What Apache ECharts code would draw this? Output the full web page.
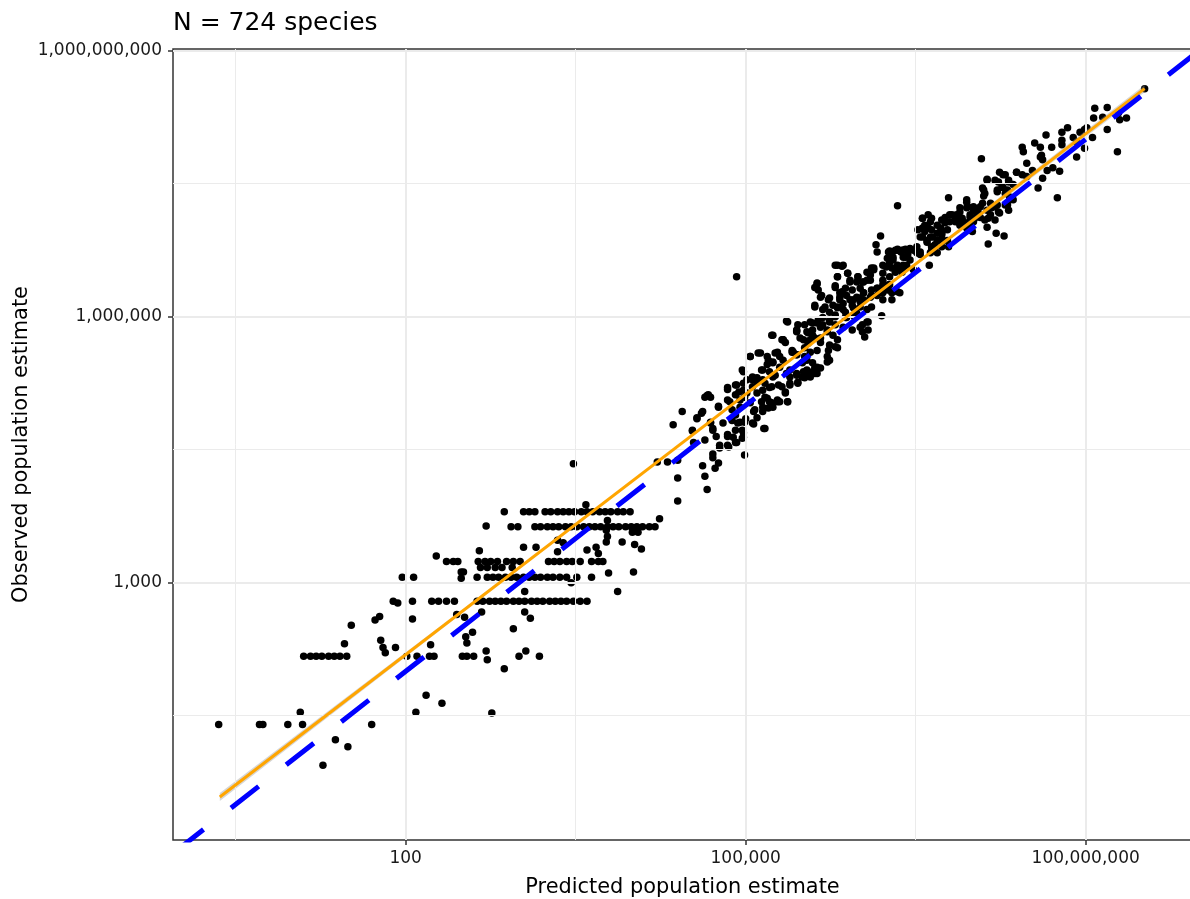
<!DOCTYPE html>
<html>
<head>
<meta charset="utf-8">
<script src="https://cdn.jsdelivr.net/npm/echarts@6/dist/echarts.min.js"></script>
<style>
html,body{margin:0;padding:0;background:#ffffff;}
#chart{width:1190px;height:899px;}
</style>
</head>
<body>
<div id="chart"></div>
<script>
// Each point: [log10(predicted population), log10(observed population)]
const pointsLowRange = [
[0.35,1.40],[0.71,1.40],[0.74,1.40],[0.96,1.40],[1.07,1.54],[1.09,1.40],[1.38,1.23],[1.49,1.15],[1.27,0.94],[1.70,1.40],
[2.09,1.54],[2.18,1.73],[2.32,1.64],[1.10,2.17],[1.16,2.17],[1.21,2.17],[1.26,2.17],[1.32,2.17],[1.37,2.17],[1.42,2.17],
[1.48,2.17],[1.46,2.31],[1.52,2.52],[1.73,2.58],[1.77,2.62],[1.78,2.35],[1.80,2.27],[1.82,2.21],[1.91,2.27],[1.97,3.06],
[2.07,3.06],[1.89,2.79],[1.93,2.77],[2.06,2.79],[2.06,2.59],[2.01,2.17],[2.10,2.17],[2.22,2.30],[2.21,2.17],[2.27,3.30],
[2.36,3.24],[2.42,3.24],[2.46,3.24],[2.49,3.12],[2.51,3.12],[2.49,3.05],[2.23,2.79],[2.29,2.79],[2.36,2.79],[2.43,2.79],
[2.45,2.64],[2.52,2.61],[2.53,2.39],[2.54,2.32],[2.50,2.17],[2.54,2.17]
];
const pointsMidLowRange = [
[3.48,4.34],[4.22,4.36],[4.31,4.36],[4.40,4.38],[4.40,4.18],[4.40,3.92],[4.24,3.72],[2.87,3.80],
[3.04,3.80],[3.09,3.80],[3.14,3.80],[3.23,3.80],[3.28,3.80],[3.34,3.80],[3.39,3.80],[3.44,3.80],[3.49,3.80],[3.55,3.80],
[3.60,3.80],[3.65,3.80],[3.71,3.80],[3.76,3.80],[3.81,3.80],[3.87,3.80],[3.92,3.80],[3.98,3.80],
[3.59,3.88],[2.71,3.64],
[2.93,3.63],[2.99,3.63],[3.14,3.63],[3.19,3.63],[3.25,3.63],[3.30,3.63],[3.35,3.63],[3.41,3.63],[3.46,3.63],[3.51,3.63],
[3.57,3.63],[3.62,3.63],[3.67,3.63],[3.72,3.63],[3.78,3.63],[3.83,3.63],[3.88,3.63],[3.94,3.63],[3.99,3.63],[4.04,3.63],
[4.09,3.63],[4.15,3.63],[4.20,3.63],
[4.00,3.57],[4.05,3.57],[3.78,3.70],[3.77,3.59],[3.78,3.52],[3.77,3.46],[3.91,3.46],[4.04,3.59],[4.02,3.43],[4.08,3.38],
[3.68,3.40],[3.60,3.37],[3.70,3.33],[3.34,3.48],[3.39,3.45],[3.34,3.35],[3.04,3.40],[3.15,3.40],[2.65,3.36],
[2.64,3.24],[2.70,3.24],[2.75,3.24],[2.81,3.24],[2.89,3.24],[2.95,3.24],[3.01,3.24],[3.26,3.24],[3.31,3.24],[3.36,3.24],
[3.42,3.24],[3.47,3.24],[3.54,3.24],[3.64,3.24],[3.70,3.24],[3.74,3.24],
[2.66,3.17],[2.72,3.17],[2.79,3.17],[2.85,3.17],[2.94,3.17],[2.63,3.06],
[2.72,3.06],[2.77,3.06],[2.82,3.06],[2.88,3.06],[2.93,3.06],[2.98,3.06],[3.04,3.06],[3.09,3.06],[3.14,3.06],[3.19,3.06],
[3.25,3.06],[3.30,3.06],[3.36,3.06],[3.42,3.06],[3.51,3.06],[3.64,3.06],
[3.79,3.11],[4.01,3.12],[3.46,3.00],[3.05,2.90],[3.87,2.90],
[2.63,2.79],[2.68,2.79],[2.74,2.79],[2.79,2.79],[2.84,2.79],[2.89,2.79],[2.95,2.79],[3.00,2.79],[3.05,2.79],[3.11,2.79],
[3.16,2.79],[3.21,2.79],[3.27,2.79],[3.32,2.79],[3.37,2.79],[3.42,2.79],[3.48,2.79],[3.54,2.79],[3.60,2.79],
[3.05,2.67],[3.10,2.60],[2.67,2.67],[2.59,2.44],[2.95,2.48],[2.25,2.17],[2.60,2.17],[2.71,2.23],[2.72,2.13],[3.00,2.17],
[3.06,2.23],[3.18,2.17],[2.87,2.03],[2.76,1.53]
];
const pointsMidRange = [
[4.36,4.78],[4.44,4.93],[4.53,4.71],[4.57,4.85],[4.61,4.91],[4.66,5.11],[4.69,5.09],[4.76,4.99],[4.69,4.81],[4.71,4.74],
[4.74,4.65],[4.77,4.52],[4.71,4.45],[4.71,4.41],[4.76,4.35],[4.73,4.29],[4.62,4.32],[4.64,4.20],[4.66,4.05],
[4.84,5.18],[4.91,5.23],[4.94,5.15],[4.98,5.38],[4.86,5.04],[4.88,4.95],[4.91,4.89],[4.84,4.65],[4.91,4.72],[4.98,4.69],
[4.85,4.53],[4.92,4.58],[4.97,4.63],[4.99,4.44],[4.95,4.81],[5.00,4.85],
[5.01,5.29],[5.06,5.32],[5.10,5.26],[5.06,5.21],[5.01,5.14],[5.15,5.40],[5.19,5.46],[5.24,5.49],[5.15,5.17],[5.17,5.09],
[5.15,4.98],[5.21,5.04],[5.24,4.98],[5.28,5.04],[5.07,4.93],[5.07,4.79],[5.16,4.74],[5.35,5.15],[5.37,5.04],[5.39,5.23],
[5.46,5.25],[5.45,5.36],[5.51,5.38],[5.54,5.34],[5.59,5.38],[5.66,5.42],[5.72,5.49],[5.36,5.36],[5.39,5.32],
[4.84,5.20],[4.92,5.23],[4.98,5.17],[4.91,5.12],[4.84,5.06],[4.95,5.06],[4.99,5.09],[5.04,5.03],[5.08,4.95],[5.14,5.04],
[5.19,5.08],[5.20,4.97],[5.23,5.03],[5.28,5.06],[5.15,4.93],[4.67,5.12],[4.64,5.09],[4.76,4.98],[4.62,4.93],[4.57,4.86],
[4.69,4.80],[4.71,4.72],[4.80,4.80],[4.88,4.83],[4.93,4.80],[4.97,4.72],[4.98,4.64],[4.89,4.64],[4.84,4.67],[4.77,4.55],
[4.84,4.55],[4.91,4.58],[5.06,4.80],[5.10,4.86],[5.17,4.74],[4.53,4.72],[4.54,4.58],[4.64,4.61],
[4.97,5.40],[5.06,5.29],[5.10,5.31],[5.14,5.40],[5.21,5.38],[5.24,5.48],[5.30,5.43],[5.26,5.34],[5.17,5.25],[5.21,5.20],
[5.29,5.23],[5.35,5.14],[5.37,5.04],[5.39,5.40],[5.45,5.34],[5.50,5.48],[5.54,5.40],[5.57,5.32],[5.61,5.43],[5.63,5.36],
[5.46,5.26],[5.52,5.31],[5.39,5.25],[5.30,5.04]
];
const pointsMidHighRange = [
[4.92,6.45],[6.19,6.91],[6.15,6.81],[6.16,6.73],[6.26,6.73],[6.30,6.67],[6.38,6.75],[6.41,6.67],[6.48,6.75],[6.45,6.64],
[6.54,6.70],[6.21,6.58],[6.27,6.61],[6.34,6.53],[6.39,6.58],[6.48,6.53],[6.62,6.58],
[5.79,6.58],[5.86,6.58],[5.81,6.45],[5.90,6.49],[5.99,6.45],[6.07,6.50],[6.13,6.53],[5.63,6.38],[5.64,6.30],[5.79,6.35],
[5.85,6.28],[5.92,6.39],[6.04,6.39],[6.10,6.41],[6.16,6.32],[6.21,6.41],[6.26,6.36],
[5.66,6.22],[5.73,6.19],[5.83,6.19],[5.89,6.24],[5.95,6.19],[6.04,6.27],[6.11,6.24],[6.21,6.27],[6.29,6.28],[6.36,6.27],
[5.61,6.11],[5.68,6.08],[5.74,6.05],[5.81,6.11],[5.86,6.08],[5.94,6.13],[6.01,6.17],[6.20,6.01],
[5.57,5.94],[5.63,5.93],[5.68,5.99],[5.74,5.96],[5.79,6.02],[5.88,5.99],[5.37,5.94],
[5.59,5.85],[5.66,5.88],[5.72,5.85],[5.79,5.91],[5.86,5.88],[5.94,5.85],[6.01,5.88],[6.05,5.77],[6.08,5.85],
[5.23,5.79],[5.32,5.74],[5.35,5.71],[5.45,5.85],[5.51,5.74],[5.55,5.70],[5.66,5.71],[5.74,5.68],[5.81,5.65],[5.72,5.55],
[5.74,5.51],[5.04,5.55],[5.11,5.59],[5.19,5.55],[5.26,5.59],[5.33,5.51],[5.41,5.62],[5.45,5.57],[5.54,5.51],[5.59,5.48],
[5.63,5.43],[5.54,5.36],[5.61,5.36],[5.50,5.32],[5.15,5.29],[5.24,5.32],[5.23,5.21],[5.32,5.21],[4.98,5.25],[5.10,5.14],
[4.95,4.98],[4.99,4.81]
];
const pointsCoreCluster = [
[6.27,6.74],[6.34,6.76],[6.37,6.73],[6.41,6.76],[6.39,6.67],[6.43,6.70],[6.25,6.66],[6.30,6.64],[6.34,6.58],[6.24,6.56],
[6.29,6.55],[6.32,6.50],[6.39,6.55],[6.42,6.58],[5.81,6.58],[5.85,6.57],[6.13,6.55],[5.90,6.49],[5.92,6.41],[5.99,6.45],
[6.03,6.39],[6.07,6.41],[6.10,6.47],[5.81,6.45],[5.79,6.33],[5.63,6.37],[5.61,6.33],[5.88,6.32],[5.94,6.30],[6.01,6.32],
[6.04,6.27],[6.11,6.30],[6.16,6.32],[6.21,6.36],[6.25,6.30],[6.29,6.27],[6.27,6.36],[6.34,6.28],[5.67,6.24],[5.74,6.21],
[5.83,6.22],[5.86,6.15],[5.92,6.19],[5.98,6.22],[6.04,6.19],[6.10,6.22],[6.16,6.24],[6.20,6.27],[5.61,6.13],[5.70,6.11],
[5.77,6.13],[5.81,6.10],[5.88,6.05],[5.95,6.10],[6.01,6.11],[6.07,6.08],[6.11,6.11],[5.36,5.95],[5.46,5.91],[5.52,5.91],
[5.59,5.93],[5.64,5.96],[5.68,5.91],[5.74,5.94],[5.79,6.00],[5.89,5.99],[5.96,6.00],[5.33,5.74],[5.45,5.84],[5.54,5.83],
[5.57,5.74],[5.59,5.79],[5.66,5.76],[5.72,5.83],[5.77,5.79],[5.81,5.74],[6.03,5.91],[6.08,5.94],[6.03,5.83],[5.42,5.60],
[5.52,5.65],[5.63,5.62],[5.73,5.62],[5.79,5.66],
[5.24,5.79],[5.33,5.74],[5.45,5.83],[5.48,5.76],[5.55,5.82],[5.61,5.76],[5.04,5.55],[5.13,5.59],[5.20,5.51],[5.28,5.60],
[5.30,5.55],[5.41,5.60],[5.45,5.57],[5.52,5.55],[5.57,5.60]
];
const pointsHighRange = [
[6.34,7.25],[7.08,7.78],[6.79,7.34],[7.13,7.55],[7.10,7.43],[7.10,7.36],[7.20,7.54],[7.27,7.60],[7.32,7.54],[7.26,7.46],
[7.22,7.43],[7.29,7.39],[7.33,7.35],[7.36,7.49],
[7.44,7.91],[7.45,7.86],[7.55,7.96],[7.60,7.91],[7.61,7.82],[7.62,7.77],[7.70,7.91],[7.79,8.08],[7.84,8.13],[7.89,8.02],
[7.95,8.08],[8.01,8.13],[7.79,7.99],[7.79,7.94],[7.65,8.05],
[8.07,8.24],[8.08,8.35],[8.19,8.36],[8.29,8.30],[8.36,8.24],[8.30,8.22],[8.19,8.11],[8.28,7.86],[7.92,7.80],[7.99,7.90],
[8.06,8.02],
[7.48,7.73],[7.53,7.65],[7.39,7.63],[7.44,7.60],[7.48,7.58],[7.66,7.65],[7.71,7.68],[7.77,7.64],[7.62,7.56],[7.58,7.45],
[7.75,7.34],[7.21,6.94],[7.28,6.91],[7.14,6.82],
[6.95,7.32],[6.95,7.23],[7.01,7.24],[7.07,7.24],[7.04,7.15],[6.98,7.12],[6.89,7.18],[6.85,7.11],[6.89,7.06],[6.95,7.00],
[7.00,6.96],[7.01,7.07],[7.13,7.20],[7.17,7.23],[7.22,7.26],[7.24,7.17],[7.14,7.11],[7.20,7.09],[7.13,7.01],[7.31,7.26],
[7.36,7.32],[7.32,7.20],
[6.56,7.11],[6.61,7.15],[6.63,7.07],[6.69,7.03],[6.76,7.12],[6.80,7.15],[6.56,7.00],[6.58,6.96],[6.54,6.90],[6.60,6.86],
[6.65,6.90],[6.73,6.94],[6.72,6.86],[6.78,6.86],[6.79,6.79],[6.64,6.79],[6.69,6.72],[6.63,6.72],
[6.32,6.75],[6.51,6.72],[6.32,6.55],[6.21,6.49],[6.27,6.45],[6.38,6.50],[6.11,6.55],[5.98,6.39],[5.83,6.27],[6.01,6.21],
[6.19,6.30],[6.21,6.19],[6.29,6.19],[5.98,6.04],[6.07,5.94],
[8.52,8.57],[8.15,8.25],[7.92,7.97],[7.99,8.11],[7.60,7.80]
];
const pointsUpperCluster = [
[7.24,7.63],[7.29,7.60],[7.32,7.52],[7.23,7.52],[7.27,7.46],[7.31,7.43],[7.13,7.54],[7.39,7.63],[7.22,7.41],[7.09,7.45],
[7.11,7.39],[7.09,7.28],[7.16,7.28],[7.20,7.24],[7.23,7.18],[7.29,7.26],[7.33,7.32],[6.95,7.29],[6.96,7.24],[7.01,7.20],
[7.05,7.18],[6.98,7.15],[7.02,7.11],[7.07,7.12],[7.11,7.09],[7.16,7.15],[6.89,7.23],[6.86,7.15],[6.91,7.11],[6.82,7.15],
[6.80,7.07],[6.85,7.07],[6.89,7.03],[6.94,7.06],[6.98,7.01],[6.73,7.09],[6.76,7.06],[6.72,7.00],[6.78,6.98],[6.69,6.94],
[6.73,6.92],[6.64,6.98],[6.63,6.90],[6.69,6.86],[6.74,6.86],[6.58,7.03],[6.61,7.00],[6.56,7.11],[6.64,7.11],[6.52,6.98],
[6.56,6.90],[6.60,6.84],[6.67,6.81],[6.73,6.79],[6.64,6.75],[6.51,6.79],[6.54,6.73],[6.45,6.77],[6.39,6.75],[6.34,6.75],
[6.29,6.72]
];

// Fitted regression line (log10 space) and its confidence band
const fitPredictedLog10 = [0.36, 8.52];
const fitObservedLog10 = [0.583, 8.572];
const bandPredictedLog10 = [0.36, 2.5, 4.5, 6.5, 8.52];
const bandLowerLog10 = [0.538, 2.657, 4.623, 6.574, 8.532];
const bandUpperLog10 = [0.628, 2.697, 4.647, 6.614, 8.612];

// 1:1 reference line (observed = predicted)
const identityLine = [0.1, 1e10];

// Axes
const xTickValues = [100, 100000, 100000000];
const xTickLabels = ['100', '100,000', '100,000,000'];
const yTickValues = [1000, 1000000, 1000000000];
const yTickLabels = ['1,000', '1,000,000', '1,000,000,000'];
const xMinorGrid = [3.1623, 3162.3, 3162277.7];
const yMinorGrid = [31.623, 31622.8, 31622776.6];
const xRangeLog10 = [-0.053, 8.938];
const yRangeLog10 = [0.098, 9.019];

const titleText = 'N = 724 species';
const xTitle = 'Predicted population estimate';
const yTitle = 'Observed population estimate';

const FONT = 'DejaVu Sans';

function labelFor(values, labels) {
  return function (v) {
    let best = 0, bestD = Infinity;
    for (let i = 0; i < values.length; i++) {
      const d = Math.abs(Math.log10(v) - Math.log10(values[i]));
      if (d < bestD) { bestD = d; best = i; }
    }
    return bestD < 0.01 ? labels[best] : '';
  };
}

const allPoints = [].concat(pointsLowRange, pointsMidLowRange, pointsMidRange, pointsMidHighRange,
    pointsCoreCluster, pointsHighRange, pointsUpperCluster)
  .map(p => [Math.pow(10, p[0]), Math.pow(10, p[1])]);

const gridLines = [];
xTickValues.forEach(v => gridLines.push({ xAxis: v, lineStyle: { color: '#EBEBEB', width: 2, type: 'solid' } }));
xMinorGrid.forEach(v => gridLines.push({ xAxis: v, lineStyle: { color: '#EBEBEB', width: 1, type: 'solid' } }));
yTickValues.forEach(v => gridLines.push({ yAxis: v, lineStyle: { color: '#EBEBEB', width: 2, type: 'solid' } }));
yMinorGrid.forEach(v => gridLines.push({ yAxis: v, lineStyle: { color: '#EBEBEB', width: 1, type: 'solid' } }));

const chart = echarts.init(document.getElementById('chart'), null, { renderer: 'canvas' });

chart.setOption({
  animation: false,
  backgroundColor: '#ffffff',
  title: {
    text: titleText,
    left: 173,
    top: 11,
    padding: 0,
    textStyle: { fontFamily: FONT, fontSize: 25, fontWeight: 'normal', color: '#000000' }
  },
  grid: {
    left: 173,
    right: -2,
    top: 49,
    bottom: 59,
    containLabel: false,
    outerBoundsMode: 'none',
    show: true,
    borderColor: '#333333',
    borderWidth: 1.5,
    backgroundColor: '#ffffff'
  },
  xAxis: {
    type: 'log',
    logBase: 10,
    min: Math.pow(10, xRangeLog10[0]),
    max: Math.pow(10, xRangeLog10[1]),
    name: xTitle,
    nameLocation: 'middle',
    nameGap: 37,
    nameMoveOverlap: false,
    nameTextStyle: { fontFamily: FONT, fontSize: 20.9, color: '#000000' },
    axisLine: { show: false },
    axisTick: { show: true, customValues: xTickValues, length: 5, lineStyle: { color: '#333333', width: 1.5 } },
    axisLabel: { customValues: xTickValues, formatter: labelFor(xTickValues, xTickLabels), fontFamily: FONT, fontSize: 17, color: '#1a1a1a', margin: 10 },
    splitLine: { show: false },
    minorTick: { show: false },
    minorSplitLine: { show: false }
  },
  yAxis: {
    type: 'log',
    logBase: 10,
    min: Math.pow(10, yRangeLog10[0]),
    max: Math.pow(10, yRangeLog10[1]),
    name: yTitle,
    nameLocation: 'middle',
    nameGap: 141,
    nameMoveOverlap: false,
    nameRotate: 90,
    nameTextStyle: { fontFamily: FONT, fontSize: 20.9, color: '#000000' },
    axisLine: { show: false },
    axisTick: { show: true, customValues: yTickValues, length: 5, lineStyle: { color: '#333333', width: 1.5 } },
    axisLabel: { customValues: yTickValues, formatter: labelFor(yTickValues, yTickLabels), fontFamily: FONT, fontSize: 17, color: '#1a1a1a', margin: 11 },
    splitLine: { show: false },
    minorTick: { show: false },
    minorSplitLine: { show: false }
  },
  series: [
    {
      type: 'line',
      name: 'grid',
      data: [],
      z: 1,
      silent: true,
      markLine: {
        silent: true,
        symbol: ['none', 'none'],
        label: { show: false },
        emphasis: { disabled: true },
        data: gridLines
      }
    },
    {
      type: 'scatter',
      name: 'species',
      data: allPoints,
      symbol: 'circle',
      symbolSize: 7.5,
      itemStyle: { color: '#000000', opacity: 1 },
      z: 3,
      silent: true
    },
    {
      type: 'custom',
      name: 'band',
      z: 4,
      silent: true,
      clip: true,
      data: [[1, 1]],
      renderItem: function (params, api) {
        const pts = [];
        for (let i = 0; i < bandPredictedLog10.length; i++) {
          pts.push(api.coord([Math.pow(10, bandPredictedLog10[i]), Math.pow(10, bandUpperLog10[i])]));
        }
        for (let i = bandPredictedLog10.length - 1; i >= 0; i--) {
          pts.push(api.coord([Math.pow(10, bandPredictedLog10[i]), Math.pow(10, bandLowerLog10[i])]));
        }
        return { type: 'polygon', shape: { points: pts }, style: { fill: 'rgba(153,153,153,0.4)' } };
      }
    },
    {
      type: 'line',
      name: 'fit',
      data: fitPredictedLog10.map((v, i) => [Math.pow(10, v), Math.pow(10, fitObservedLog10[i])]),
      showSymbol: false,
      symbol: 'none',
      lineStyle: { color: '#FFA500', width: 3 },
      z: 5,
      silent: true
    },
    {
      type: 'line',
      name: 'identity',
      data: [[identityLine[0], identityLine[0]], [identityLine[1], identityLine[1]]],
      showSymbol: false,
      symbol: 'none',
      clip: true,
      lineStyle: { color: '#0000FF', width: 5, type: [35, 35], cap: 'butt' },
      z: 6,
      silent: true
    }
  ]
});
</script>
</body>
</html>
